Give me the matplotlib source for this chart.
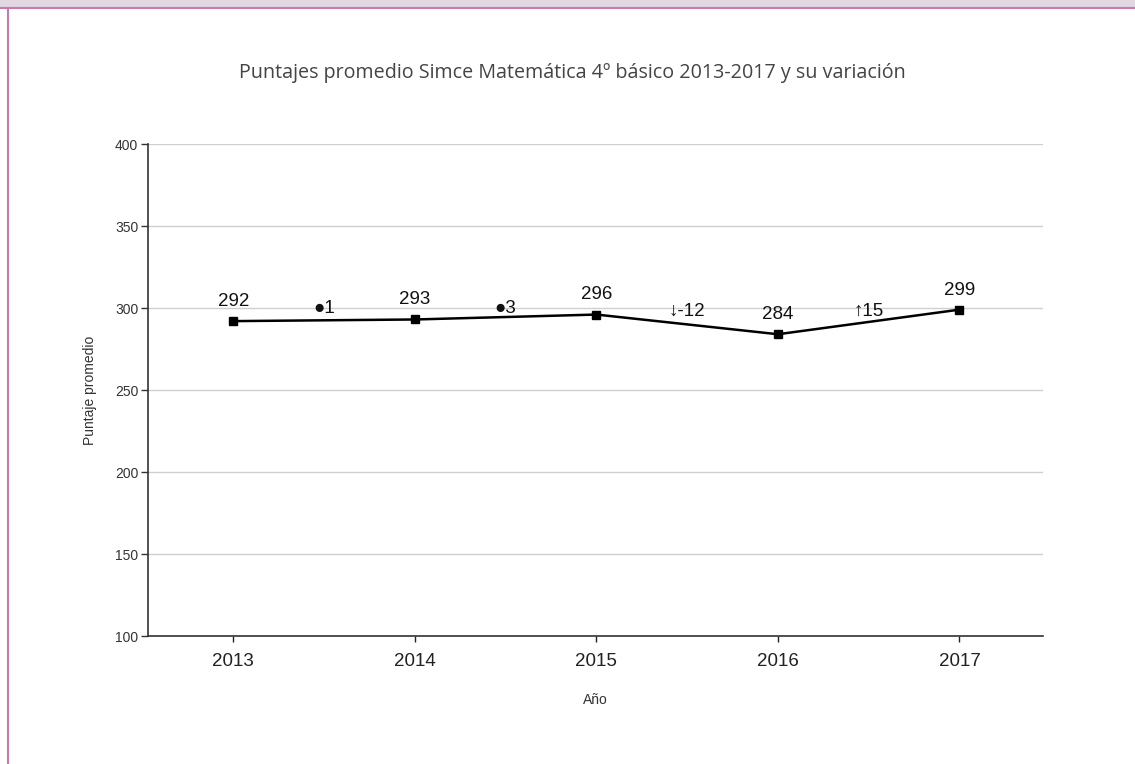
import matplotlib
matplotlib.use("Agg")
import matplotlib.pyplot as plt
from matplotlib.patches import Rectangle
from matplotlib.lines import Line2D

years = [2013, 2014, 2015, 2016, 2017]
scores = [292, 293, 296, 284, 299]
# variation between consecutive years, placed between them
var_pos = [2013.5, 2014.5, 2015.5, 2016.5]
var_labels = ["\u25cf1", "\u25cf3", "\u2193-12", "\u219115"]
var_y = [300, 300, 298, 298]

W, H = 1135, 764
fig = plt.figure(figsize=(W / 100, H / 100), dpi=100)
fig.patch.set_facecolor("white")

# page frame: grey band on top, magenta rules
fig.patches.append(Rectangle((0, 1 - 7 / H), 1, 7 / H, transform=fig.transFigure,
                             facecolor="#e2d6e0", edgecolor="none", zorder=0))
fig.lines.append(Line2D([0, 1], [1 - 8 / H, 1 - 8 / H], transform=fig.transFigure,
                       color="#c57bb0", linewidth=1.5))
fig.lines.append(Line2D([7.5 / W, 7.5 / W], [0, 1 - 8 / H], transform=fig.transFigure,
                        color="#c57bb0", linewidth=1.5))

ax = fig.add_axes([148 / W, 1 - 636 / H, (1043 - 148) / W, (636 - 144) / H])
ax.plot(years, scores, color="black", linewidth=1.8, marker="s", markersize=6, zorder=3)

for x, y in zip(years, scores):
    ax.annotate(str(y), (x, y), xytext=(0, 8), textcoords="offset points",
                ha="center", va="bottom", fontsize=13.5, family="Liberation Sans",
                color="#111")
for x, y, t in zip(var_pos, var_y, var_labels):
    ax.text(x, y, t, ha="center", va="center", fontsize=13.5,
            family=["Liberation Sans", "DejaVu Sans"], color="#111")

ax.set_xlim(2012.53, 2017.46)
ax.set_ylim(100, 400)
ax.set_yticks([100, 150, 200, 250, 300, 350, 400])
ax.set_xticks(years)
ax.grid(axis="y", color="#d0d0d0", linewidth=1)
ax.set_axisbelow(True)
for s in ("top", "right"):
    ax.spines[s].set_visible(False)
for s in ("left", "bottom"):
    ax.spines[s].set_color("#333")
    ax.spines[s].set_linewidth(1.2)
ax.tick_params(axis="y", labelsize=10, colors="#333", length=5, width=1, pad=2)
ax.tick_params(axis="x", labelsize=13.5, colors="#222", length=4, width=1, pad=8)
for lbl in ax.get_yticklabels():
    lbl.set_family("Liberation Sans")
    lbl.set_fontstretch("condensed")
for lbl in ax.get_xticklabels():
    lbl.set_family("Liberation Sans")

ax.set_ylabel("Puntaje promedio", fontsize=10, family="Liberation Sans", color="#333",
              labelpad=13)
ax.set_xlabel("Año", fontsize=10, family="Liberation Sans", color="#333", labelpad=17)

fig.text(572 / W, 1 - 73 / H,
         "Puntajes promedio Simce Matemática 4º básico 2013-2017 y su variación",
         ha="center", va="center", fontsize=14.2, family="Open Sans", color="#444")

fig.savefig("out.png", dpi=100)
